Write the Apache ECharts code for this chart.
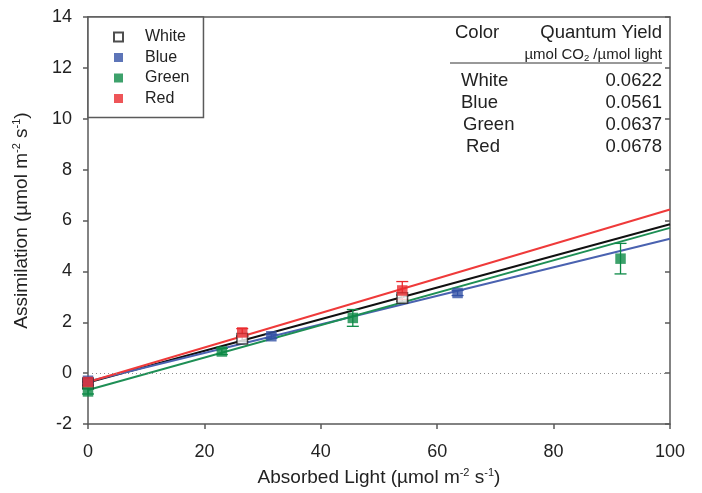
<!DOCTYPE html>
<html>
<head>
<meta charset="utf-8">
<script src="https://cdn.jsdelivr.net/npm/echarts@6/dist/echarts.min.js"></script>
<style>
  html, body { margin: 0; padding: 0; background: #fff; }
  #chart { width: 702px; height: 493px; }
</style>
</head>
<body>
<div id="chart"></div>
<script>
// values
var colorNames = ["White", "Blue", "Green", "Red"];
var quantumYield = ["0.0622", "0.0561", "0.0637", "0.0678"];
var slopes = [0.0622, 0.0561, 0.0637, 0.0678];
var intercepts = [-0.37, -0.33, -0.66, -0.35];

var whiteX = [0, 26.5, 54];
var whiteY = [-0.4, 1.35, 2.95];
var whiteErr = [0.08, 0.1, 0.12];

var blueX = [0, 31.5, 63.5];
var blueY = [-0.3, 1.45, 3.15];
var blueErr = [0.06, 0.08, 0.1];

var greenX = [0, 23, 45.5, 91.5];
var greenY = [-0.72, 0.85, 2.17, 4.5];
var greenErr = [0.1, 0.12, 0.33, 0.6];

var redX = [0, 26.5, 54];
var redY = [-0.35, 1.6, 3.25];
var redErr = [0.1, 0.15, 0.35];

var xTicks = [0, 100, 20];
var yTicks = [-2, 14, 2];

var markColors = ["#ffffff", "#3553a6", "#0c8a46", "#ea2a2e"];
var lineColors = ["#111111", "#4a62b0", "#1e8f55", "#ef3a3a"];

var groupX = [whiteX, blueX, greenX, redX];
var groupY = [whiteY, blueY, greenY, redY];
var groupErr = [whiteErr, blueErr, greenErr, redErr];

var font = "Liberation Sans, Arial, sans-serif";
var axisGray = "#5a5a5a";

function pairs(xs, ys) {
    return xs.map(function (x, i) { return [x, ys[i]]; });
}

function errorBars(color) {
    return function (params, api) {
        var x = api.value(0);
        var lo = api.coord([x, api.value(1)]);
        var hi = api.coord([x, api.value(2)]);
        var cap = 6;
        var st = { stroke: color, lineWidth: 1.3 };
        return {
            type: "group",
            children: [
                { type: "line", shape: { x1: lo[0], y1: lo[1], x2: hi[0], y2: hi[1] }, style: st },
                { type: "line", shape: { x1: lo[0] - cap, y1: lo[1], x2: lo[0] + cap, y2: lo[1] }, style: st },
                { type: "line", shape: { x1: hi[0] - cap, y1: hi[1], x2: hi[0] + cap, y2: hi[1] }, style: st }
            ]
        };
    };
}

var series = [];

// zero reference line
series.push({
    type: "line",
    data: [],
    silent: true,
    markLine: {
        symbol: "none",
        silent: true,
        label: { show: false },
        lineStyle: { color: "#8a8a8a", type: [1, 3], width: 1.2 },
        data: [{ yAxis: 0 }]
    }
});

// fitted lines
colorNames.forEach(function (name, i) {
    series.push({
        name: name + " fit",
        type: "line",
        showSymbol: false,
        silent: true,
        z: 2,
        lineStyle: { color: lineColors[i], width: 2 },
        data: [[xTicks[0], intercepts[i] + slopes[i] * xTicks[0]],
               [xTicks[1], intercepts[i] + slopes[i] * xTicks[1]]]
    });
});

// error bars
colorNames.forEach(function (name, i) {
    series.push({
        name: name + " err",
        type: "custom",
        z: 3,
        renderItem: errorBars(i === 0 ? "#222" : markColors[i]),
        data: groupX[i].map(function (x, k) {
            return [x, groupY[i][k] - groupErr[i][k], groupY[i][k] + groupErr[i][k]];
        })
    });
});

// points
colorNames.forEach(function (name, i) {
    series.push({
        name: name,
        type: "scatter",
        symbol: "rect",
        symbolSize: 10.5,
        z: 4,
        itemStyle: i === 0
            ? { color: "#ffffff", borderColor: "#222", borderWidth: 1.5 }
            : { color: markColors[i] },
        data: pairs(groupX[i], groupY[i])
    });
});

// quantum yield table
var tf = "18.5px " + font;
var tableText = [];
tableText.push({ type: "text", left: 455, top: 23, style: { text: "Color", font: tf, fill: "#222" } });
tableText.push({ type: "text", right: 40, top: 23, style: { text: "Quantum Yield", font: tf, fill: "#222" } });
tableText.push({
    type: "text", right: 40, top: 46,
    style: {
        text: "{a|\u00b5mol CO}{s|2}{a| /\u00b5mol light}",
        rich: {
            a: { fontSize: 15, fontFamily: font, fill: "#222", lineHeight: 16 },
            s: { fontSize: 9.5, fontFamily: font, fill: "#222", lineHeight: 16, verticalAlign: "bottom", padding: [7, 0, 0, 0] }
        }
    }
});
tableText.push({ type: "line", shape: { x1: 450, y1: 63, x2: 662, y2: 63 }, style: { stroke: "#333", lineWidth: 1 } });
var rowLeft = [461, 461, 463, 466];
colorNames.forEach(function (name, i) {
    var top = 71.5 + i * 22;
    tableText.push({ type: "text", left: rowLeft[i], top: top, style: { text: name, font: tf, fill: "#222" } });
    tableText.push({ type: "text", right: 40, top: top, style: { text: quantumYield[i], font: tf, fill: "#222" } });
});

var unitRich = {
    n: { fontSize: 19, fontFamily: font, color: "#222" },
    sup: { fontSize: 11, fontFamily: font, color: "#222", verticalAlign: "top", padding: [0, 0, 10, 0] }
};

var option = {
    backgroundColor: "#fff",
    animation: false,
    grid: { left: 88, right: 32, top: 17, bottom: 69 },
    legend: {
        data: colorNames,
        orient: "vertical",
        left: 88,
        top: 17,
        icon: "rect",
        itemWidth: 9,
        itemHeight: 9,
        itemGap: 4.5,
        padding: [12, 14, 11, 25],
        borderColor: axisGray,
        borderWidth: 1.5,
        backgroundColor: "#fff",
        textStyle: { fontSize: 16, fontFamily: font, color: "#222", lineHeight: 16, padding: [0, 0, 0, 17] }
    },
    xAxis: [{
        type: "value",
        min: xTicks[0], max: xTicks[1], interval: xTicks[2],
        name: "{n|Absorbed Light (\u00b5mol m}{sup|-2}{n| s}{sup|-1}{n|)}",
        nameLocation: "middle",
        nameGap: 43,
        nameTextStyle: { rich: unitRich },
        axisLine: { onZero: false, lineStyle: { color: axisGray, width: 1.5 } },
        axisTick: { length: 5, lineStyle: { color: axisGray, width: 1.5 } },
        axisLabel: { fontSize: 18, fontFamily: font, color: "#222", margin: 19 },
        splitLine: { show: false }
    }, {
        type: "value",
        position: "top",
        min: xTicks[0], max: xTicks[1], interval: xTicks[2],
        axisLine: { show: true, onZero: false, lineStyle: { color: axisGray, width: 1.5 } },
        axisTick: { show: false },
        axisLabel: { show: false },
        splitLine: { show: false }
    }],
    yAxis: [{
        type: "value",
        min: yTicks[0], max: yTicks[1], interval: yTicks[2],
        name: "{n|Assimilation (\u00b5mol m}{sup|-2}{n| s}{sup|-1}{n|)}",
        nameLocation: "middle",
        nameRotate: 90,
        nameGap: 56,
        nameTextStyle: { rich: unitRich },
        axisLine: { show: true, onZero: false, lineStyle: { color: axisGray, width: 1.5 } },
        axisTick: { length: 5, lineStyle: { color: axisGray, width: 1.5 } },
        axisLabel: { fontSize: 18, fontFamily: font, color: "#222", margin: 16 },
        splitLine: { show: false }
    }, {
        type: "value",
        position: "right",
        min: yTicks[0], max: yTicks[1], interval: yTicks[2],
        axisLine: { show: true, onZero: false, lineStyle: { color: axisGray, width: 1.5 } },
        axisTick: { inside: true, length: 5, lineStyle: { color: axisGray, width: 1.5 } },
        axisLabel: { show: false },
        splitLine: { show: false }
    }],
    graphic: tableText,
    series: series
};

var chart = echarts.init(document.getElementById("chart"));
chart.setOption(option);
</script>
</body>
</html>
